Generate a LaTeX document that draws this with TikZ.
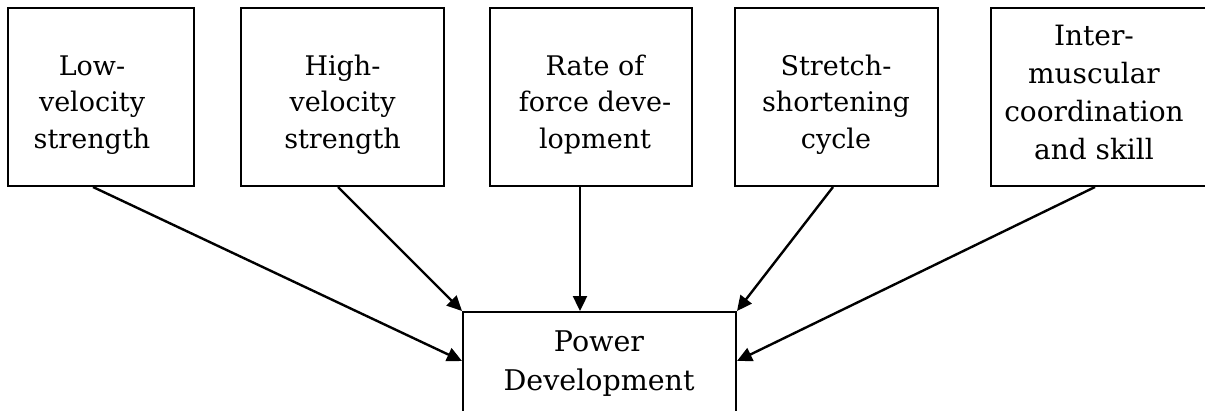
\documentclass[tikz,border=0pt]{standalone}
\usepackage{fontspec}
\setmainfont{DejaVu Serif}
\usetikzlibrary{arrows.meta}
\begin{document}
\begin{tikzpicture}[x=1pt,y=-1pt,
  boxnode/.style={draw, line width=2pt, inner sep=0pt},
  lbl/.style={align=center, font=\fontsize{27}{36.5}\selectfont, inner sep=0pt, anchor=base},
  lblb/.style={align=center, font=\fontsize{28}{38}\selectfont, inner sep=0pt, anchor=base},
  lblp/.style={align=center, font=\fontsize{28.5}{39}\selectfont, inner sep=0pt, anchor=base},
  conn/.style={line width=2.4pt, -{Triangle[length=15pt,width=14pt]}}]
\useasboundingbox (0,0) rectangle (1205,410);
\clip (0,0) rectangle (1205,410);
\node[boxnode, minimum width=186pt, minimum height=178pt] (b1) at (101,97) {};
\node[boxnode, minimum width=203pt, minimum height=178pt] (b2) at (342.5,97) {};
\node[boxnode, minimum width=202pt, minimum height=178pt] (b3) at (591,97) {};
\node[boxnode, minimum width=203pt, minimum height=178pt] (b4) at (836.5,97) {};
\node[boxnode, minimum width=224pt, minimum height=178pt] (b5) at (1103,97) {};
\node[boxnode, minimum width=273pt, minimum height=128pt] (pw) at (599.5,376) {};
\node[lbl] (t1) at (92,148) {Low-\\velocity\\strength};
\node[lbl] (t2) at (342.5,148) {High-\\velocity\\strength};
\node[lbl] (t3) at (595,148) {Rate of\\force deve-\\lopment};
\node[lbl] (t4) at (836,148) {Stretch-\\shortening\\cycle};
\node[lblb] (t5) at (1094,159) {Inter-\\muscular\\coordination\\and skill};
\node[lblp] (tp) at (599,390) {Power\\Development};
\draw[conn] ([xshift=-8pt]b1.south) -- ([yshift=-50pt]pw.north west);
\draw[conn] ([xshift=-4.5pt]b2.south) -- (pw.north west);
\draw[conn] ([xshift=-11pt]b3.south) -- ([xshift=-19.5pt]pw.north);
\draw[conn] ([xshift=-3.5pt]b4.south) -- (pw.north east);
\draw[conn] ([xshift=-8pt]b5.south) -- ([yshift=-50pt]pw.north east);
\end{tikzpicture}
\end{document}
